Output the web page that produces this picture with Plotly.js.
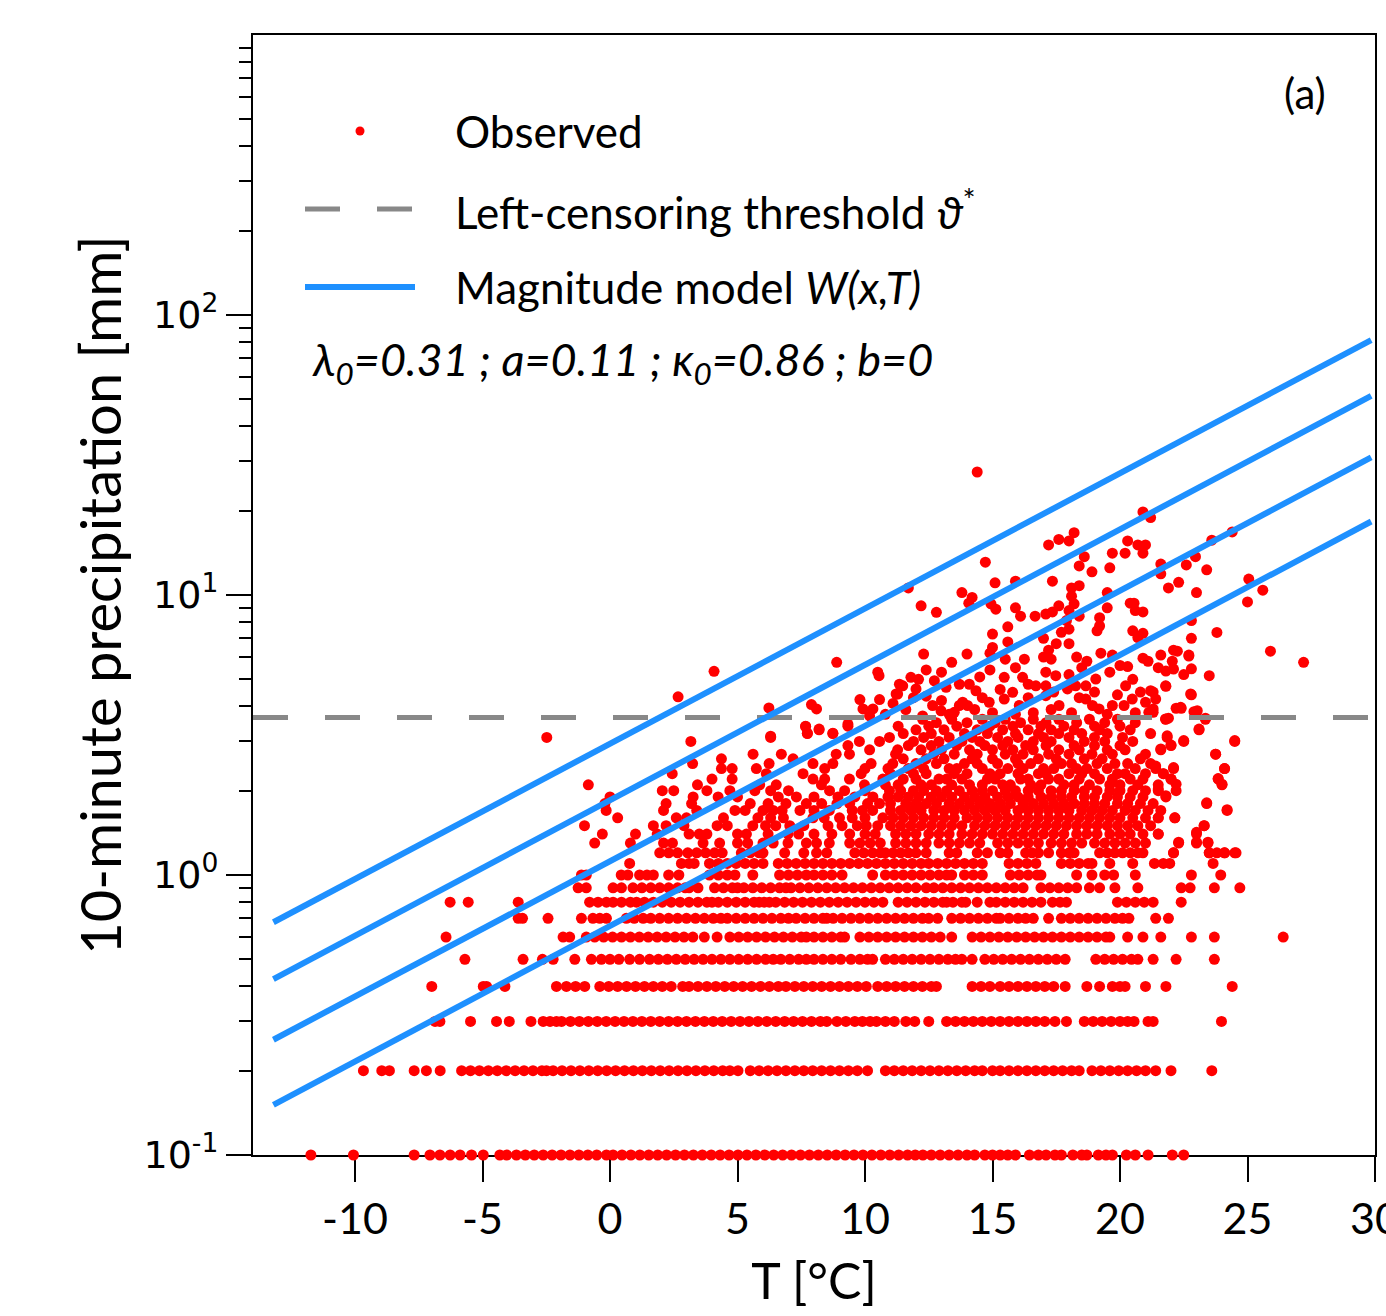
<!DOCTYPE html>
<html><head><meta charset="utf-8">
<script src="https://cdn.plot.ly/plotly-3.0.1.min.js"></script>
<style>html,body{margin:0;padding:0;background:#fff}#chart{width:1386px;height:1316px}</style>
</head><body><div id="chart"></div>
<script>
// ---- Observed 10-minute precipitation, quantized rows (mm) and temperatures (°C) ----
const T_01 = [-11.73,-10.06,-7.68,-7.06,-6.67,-6.27,-5.88,-5.43,-4.97,-4.32,-4.05,-3.67,-3.32,-2.97,-2.62,-2.27,-1.92,-1.57,-1.22,-0.87,-0.52,-0.14,0.12,0.47,0.82,1.17,1.52,1.87,2.22,2.57,2.92,3.27,3.62,3.97,4.32,4.67,5.02,5.37,5.72,6.07,6.42,6.77,7.12,7.47,7.82,8.17,8.52,8.87,9.22,9.57,9.92,10.27,10.62,10.97,11.32,11.67,11.97,12.27,12.6,12.95,13.3,13.65,14.0,14.3,14.7,15.0,15.3,15.6,15.9,16.45,16.8,17.1,17.45,17.7,18.15,18.5,18.7,19.15,19.45,19.7,20.25,20.6,21.1,22.05,22.5];
const T_02 = [-9.67,-8.95,-8.65,-7.68,-7.2,-6.66,-5.82,-5.47,-5.12,-4.77,-4.42,-4.07,-3.72,-3.37,-3.02,-2.67,-2.49,-2.23,-1.88,-1.53,-1.18,-0.83,-0.48,-0.13,0.22,0.57,0.92,1.27,1.62,1.97,2.32,2.67,3.02,3.37,3.72,4.07,4.42,4.7,5.02,5.5,5.85,6.2,6.55,6.9,7.25,7.6,7.95,8.3,8.65,9.0,9.35,9.7,10.1,10.8,11.15,11.5,11.85,12.2,12.55,12.9,13.25,13.6,13.95,14.3,14.6,15.0,15.3,15.65,16.0,16.35,16.7,17.05,17.4,17.75,18.1,18.4,18.9,19.25,19.6,19.95,20.3,20.65,21.0,21.4,22.0,23.6];
const T_03 = [-6.86,-6.67,-5.47,-4.45,-3.95,-3.1,-2.62,-2.35,-2.1,-1.9,-1.55,-1.2,-0.85,-0.5,-0.15,0.2,0.55,0.9,1.25,1.6,1.95,2.3,2.65,3.0,3.35,3.7,4.05,4.4,4.75,5.1,5.45,5.8,6.15,6.5,6.85,7.2,7.55,7.9,8.25,8.5,8.9,9.25,9.6,9.9,10.2,10.45,10.8,11.15,11.6,11.95,12.5,13.2,13.55,13.9,14.25,14.6,14.95,15.3,15.65,16.0,16.35,16.7,17.05,17.45,17.9,18.6,18.95,19.3,19.65,20.0,20.3,20.55,21.1,21.3,23.98];
const T_04 = [-6.99,-4.97,-4.84,-4.12,-2.1,-1.71,-1.35,-0.99,-0.4,-0.05,0.3,0.65,1.0,1.35,1.7,2.05,2.4,2.85,3.1,3.45,3.8,4.15,4.5,4.85,5.2,5.55,5.9,6.25,6.6,6.9,7.25,7.6,7.95,8.3,8.65,9.0,9.35,9.7,10.05,10.5,10.85,11.2,11.55,11.9,12.25,12.6,12.8,14.2,14.55,14.9,15.3,15.65,16.0,16.35,16.7,17.05,17.4,17.85,18.7,19.2,19.7,20.0,20.2,21.0,21.8,24.4];
const T_05 = [-5.69,-3.41,-2.65,-2.23,-1.38,-0.73,-0.34,0.0,0.35,0.77,1.16,1.55,1.9,2.25,2.6,2.95,3.3,3.65,4.0,4.35,4.7,5.05,5.4,5.75,6.1,6.4,6.7,7.05,7.4,7.7,8.0,8.35,8.7,9.05,9.45,9.8,10.1,10.3,10.8,11.15,11.5,11.85,12.2,12.55,12.9,13.25,13.55,13.8,14.2,14.7,15.05,15.4,15.75,16.1,16.45,16.8,17.15,17.5,17.85,19.05,19.4,19.75,20.1,20.45,20.7,21.3,22.2,23.7];
const T_06 = [-6.43,-1.84,-1.58,-0.93,-0.6,-0.25,0.1,0.45,0.8,1.15,1.5,1.85,2.2,2.55,2.9,3.25,3.7,4.2,4.7,5.05,5.4,5.75,6.1,6.45,6.8,7.15,7.5,7.7,8.0,8.35,8.7,9.05,9.2,9.8,10.15,10.5,10.85,11.2,11.55,11.9,12.25,12.6,12.95,13.4,14.2,14.55,14.9,15.25,15.6,15.95,16.3,16.65,17.0,17.35,17.7,18.05,18.4,18.75,19.1,19.45,19.6,20.3,20.9,21.6,22.8,23.7,26.4];
const T_07 = [-3.6,-3.43,-2.43,-1.12,-0.67,-0.4,-0.14,0.64,0.95,1.3,1.6,1.95,2.3,2.65,3.0,3.35,3.7,4.05,4.35,4.6,4.95,5.3,5.65,6.0,6.35,6.7,7.0,7.3,7.65,8.0,8.35,8.5,8.75,9.1,9.45,9.8,10.15,10.5,10.85,11.2,11.55,11.9,12.25,12.5,12.85,13.4,13.75,14.1,14.45,14.8,15.15,15.3,15.65,16.0,16.3,16.6,17.2,17.7,18.05,18.4,18.75,19.1,19.45,19.8,20.1,20.35,21.4,21.9];
const T_08 = [-6.27,-5.56,-3.6,-0.8,-0.47,-0.14,0.12,0.45,0.8,1.04,1.35,1.7,2.05,2.4,2.75,3.1,3.45,3.8,4.0,4.25,4.6,4.95,5.3,5.65,5.85,6.05,6.25,6.5,6.85,7.2,7.55,7.9,8.25,8.6,8.95,9.3,9.65,10.0,10.35,10.7,11.3,11.65,12.0,12.35,12.7,13.05,13.2,13.45,13.8,13.95,14.4,14.9,15.15,15.5,15.85,16.2,16.55,16.9,17.35,17.65,17.9,19.9,20.25,20.6,20.95,21.3,22.4];
const T_09 = [-1.25,-0.93,0.12,0.45,0.9,1.25,1.6,1.95,2.3,2.65,2.95,3.1,3.45,4.1,4.45,4.8,5.0,5.25,5.6,5.95,6.3,6.65,6.9,7.1,7.45,7.8,8.15,8.5,8.85,9.2,9.55,9.9,10.25,10.6,10.95,11.3,11.65,12.0,12.4,12.7,13.05,13.4,13.75,14.1,14.45,14.8,15.15,15.5,15.85,16.2,16.9,17.25,17.6,17.95,18.3,18.8,19.2,19.8,20.7,22.4,22.75,23.7,24.7];
const T_10 = [-1.12,-0.93,0.44,0.7,1.16,1.45,1.7,2.3,2.7,3.9,4.25,4.6,4.9,5.6,6.65,7.0,7.35,7.7,8.0,8.35,8.7,9.1,10.3,10.8,11.15,11.5,11.85,12.2,12.55,12.9,13.2,13.4,13.9,14.25,14.6,15.7,16.05,16.4,16.75,16.9,18.3,18.9,19.4,19.75,20.6,22.8,23.95];
const T_11 = [0.77,2.8,3.1,3.3,3.9,4.25,4.6,4.95,5.3,5.65,6.0,6.6,6.95,7.3,7.65,8.0,8.35,8.7,9.05,9.4,9.75,10.1,10.45,10.8,11.15,11.5,11.85,12.2,12.5,12.85,13.2,13.55,13.9,14.25,14.6,15.65,16.0,16.35,16.7,17.7,18.05,18.4,18.75,18.9,19.6,20.5,21.35,21.7,21.95,23.65];
const T_12 = [1.95,2.3,2.65,3.05,3.4,3.75,4.1,4.4,5.15,5.5,5.85,6.0,6.85,7.6,8.1,8.5,9.6,9.95,10.3,10.6,10.8,11.1,11.4,11.7,12.0,12.4,13.3,13.6,14.4,14.8,15.3,15.6,16.3,16.55,16.8,17.2,17.7,18.0,18.2,19.2,19.5,19.8,20.1,20.4,20.7,20.9,22.1,23.5,23.8,24.1,24.5];
const T_13 = [-0.6,0.8,2.1,2.45,3.65,4.3,5.0,5.4,6.0,6.4,6.98,7.7,8.1,8.6,9.4,9.8,10.2,10.6,11.2,11.6,12.0,12.4,12.9,13.3,13.7,14.1,14.5,15.2,15.6,16.0,16.4,16.8,17.3,17.7,18.1,18.5,19.0,19.4,19.8,20.2,20.6,21.0,22.3,23.0,23.45];
const T_14 = [-0.3,1.0,1.85,3.1,3.5,3.8,5.0,5.35,6.2,6.98,7.4,8.0,8.7,9.4,10.0,10.4,11.2,11.6,12.0,12.5,12.9,13.3,13.8,14.2,14.6,15.0,15.4,15.8,16.2,16.6,17.0,17.4,17.8,18.3,18.7,19.1,19.6,20.0,20.4,20.9,21.5,23.0];
const T_15 = [-1.0,1.7,2.2,2.9,4.2,4.6,5.6,6.1,6.5,7.05,7.6,8.55,9.1,9.7,10.05,10.5,11.0,11.4,11.8,12.2,12.6,13.0,13.4,13.8,14.3,14.7,15.1,15.5,15.9,16.3,16.7,17.1,17.5,17.9,18.3,18.7,19.1,19.5,19.9,20.3,20.7,21.2,23.3];
const T_16 = [0.3,2.6,3.0,4.45,5.8,6.3,6.8,7.96,8.4,9.0,9.5,10.0,10.7,11.1,11.5,11.9,12.3,12.7,13.1,13.5,14.0,14.4,14.8,15.2,15.6,16.0,16.4,16.8,17.2,17.6,18.0,18.4,18.8,19.2,19.6,20.0,20.5,21.0,21.5,22.15];
const T_17 = [-0.15,2.1,3.4,4.9,5.3,6.0,6.4,6.75,7.45,8.0,8.6,9.5,9.9,10.3,11.0,11.4,11.8,12.2,12.7,13.1,13.5,13.9,14.3,14.7,15.1,15.5,16.0,16.4,16.8,17.2,17.6,18.0,18.5,18.9,19.3,19.7,20.2,20.6,21.1,21.6,24.2];
const T_18 = [-0.2,2.2,3.2,5.5,6.2,6.9,7.7,8.3,8.9,9.4,10.1,10.57,11.0,11.6,12.0,12.4,12.8,13.3,13.7,14.1,14.5,14.9,15.3,15.7,16.2,16.6,17.0,17.4,17.8,18.2,18.6,19.0,19.4,19.9,20.3,20.8,21.3,23.4];
const T_19 = [0.0,3.26,4.24,5.0,6.6,7.31,8.0,8.94,9.6,10.31,10.9,11.3,11.7,12.1,12.6,13.0,13.4,13.9,14.3,14.7,15.2,15.6,16.0,16.4,16.9,17.3,17.7,18.1,18.6,19.0,19.5,19.9,20.4,20.9,21.8];
const T_20 = [2.05,2.5,3.8,4.7,5.68,6.3,7.0,8.61,9.2,10.0,10.96,11.4,11.9,12.3,12.8,13.2,13.7,14.2,14.6,15.0,15.5,15.9,16.4,16.8,17.3,17.7,18.2,18.6,19.1,19.6,20.0,20.5,21.0,21.5,22.2];
const T_21 = [-0.85,3.43,5.87,6.52,8.29,9.98,10.8,11.3,12.2,12.6,13.4,14.1,14.6,15.4,15.7,16.5,16.9,17.8,18.2,18.8,19.6,20.0,20.7,21.5,24.0];
const T_22 = [4.0,4.79,7.96,8.42,9.39,10.7,11.5,12.0,12.9,13.2,13.8,14.8,15.1,16.1,16.4,17.2,17.6,18.4,19.2,19.7,20.4,20.9,22.0,23.85];
const T_23 = [2.44,6.13,7.57,9.85,11.0,11.9,12.4,13.5,14.0,14.9,15.3,16.0,16.8,17.1,18.0,18.5,19.0,19.9,20.2,21.0,21.7];
const T_24 = [4.37,4.79,5.74,8.42,10.0,10.9,11.7,12.3,13.3,13.6,14.6,15.6,16.2,17.0,17.4,18.3,18.7,19.5,20.6,21.4,22.1,24.1];
const T_25 = [3.24,6.24,7.96,8.74,10.24,11.09,12.0,12.8,13.9,14.4,15.2,16.0,16.5,17.7,18.1,19.1,19.8,20.3,21.2];
const T_26 = [4.37,7.18,11.5,12.4,13.1,14.2,15.0,15.9,16.8,17.5,18.6,19.3,20.8];
const T_27 = [5.61,6.72,8.87,9.39,11.2,12.7,13.5,14.4,15.5,16.2,17.2,18.0,18.9,19.7,21.0,23.75];
const T_28 = [10.18,11.28,12.2,13.0,14.1,15.0,15.8,16.6,17.6,18.4,19.5,20.2,21.6];
const T_29 = [9.33,11.7,12.6,13.6,14.7,15.4,16.3,17.1,18.2,19.0,20.0,22.0];
const T_30 = [3.17,9.78,10.57,11.9,12.9,13.8,14.5,15.6,16.6,17.3,18.6,19.4,20.5,22.5,24.5];
const T_31 = [-2.48,6.3,10.96,12.3,13.3,14.2,15.2,16.0,17.0,18.0,19.0,20.1,21.85];
const T_32 = [7.74,8.74,11.5,12.6,13.9,14.8,15.9,16.8,17.6,18.5,19.5,21.2];
const T_33 = [8.2,12.0,13.1,14.4,15.4,16.4,17.3,18.2,19.2,20.4,23.1];
const T_34 = [7.67,9.33,11.3,12.5,13.6,14.9,15.8,16.9,17.8,19.0,20.0];
const T_35 = [12.8,14.0,15.1,16.1,17.1,18.3,19.4,20.6];
const T_36 = [12.26,13.4,14.6,15.5,16.6,17.6,18.8,19.9,21.79,23.35];

const rowLevels = [0.1,0.2,0.3,0.4,0.5,0.6,0.7,0.8,0.9,1.0,1.1,1.2,1.3,1.4,1.5,1.6,1.7,1.8,1.9,2.0,2.1,2.2,2.3,2.4,2.5,2.6,2.7,2.8,2.9,3.0,3.1,3.2,3.3,3.4,3.5,3.6];
const rowTemps = [T_01,T_02,T_03,T_04,T_05,T_06,T_07,T_08,T_09,T_10,T_11,T_12,T_13,T_14,T_15,T_16,T_17,T_18,T_19,T_20,T_21,T_22,T_23,T_24,T_25,T_26,T_27,T_28,T_29,T_30,T_31,T_32,T_33,T_34,T_35,T_36];

// scattered points above the censoring threshold
const upperT = [2.67,4.08,6.23,7.9,8.1,8.89,9.8,10.57,9.92,10.31,10.18,10.5,10.55,11.22,9.33,11.35,11.8,11.48,12.0,11.28,12.72,13.18,13.7,14.09,14.35,13.83,13.7,14.02,12.65,12.98,13.5,12.26,14.87,15.46,15.79,16.05,15.46,16.18,16.7,17.09,17.09,17.48,17.09,17.61,17.94,18.26,18.66,19.05,18.66,18.92,19.18,19.7,20.16,20.22,20.48,21.0,21.2,21.4,21.79,22.38,22.77,23.03,21.13,21.79,
14.4,20.9,21.2,14.72,17.2,17.6,18.0,18.2,20.3,20.7,21.0,20.9,19.7,20.2,23.6,24.4,18.6,18.4,18.9,19.6,17.35,21.6,21.6,21.9,22.3,22.6,22.96,23.4,23.0,22.8,22.8,22.7,22.8,23.5,11.7,12.2,12.8,13.8,14.2,14.07,15.1,15.9,14.94,15.13,15.9,16.1,16.67,17.09,17.35,17.6,18.1,18.4,18.1,18.2,18.0,18.4,17.9,19.5,19.5,20.4,20.55,20.6,20.9,19.2,19.2,19.1,20.5,20.9,20.7,17.7,18.0,15.6,15.0,17.0,17.5,18.0,15.6,15.0,14.9,14.0,13.4,12.3,12.4,14.9,15.5,15.9,16.25,17.0,17.2,17.3,18.3,18.7,18.5,19.25,19.7,20.0,20.3,20.9,21.1,21.5,21.6,22.05,22.1,22.7,22.5,23.8,25.05,25.6,25.0,25.9,27.2,22.25,21.8,22.1,21.8,22.8,21.3,22.2,22.4,22.9,23.35,21.9,21.3,21.3,
10.8,11.1,11.6,11.9,12.4,13.0,13.3,14.3,14.6,15.0,15.3,15.9,16.4,16.6,17.3,17.4,18.1,18.4,19.0,19.5,19.9,20.6,20.8,12.1,13.0,14.5,16.4,18.0,19.6,20.5];
const upperP = [4.33,5.34,3.95,4.06,3.92,5.75,4.23,4.23,3.92,3.92,3.7,5.3,5.15,4.43,3.46,4.8,5.08,4.74,4.62,4.43,4.94,4.68,4.8,4.8,4.55,4.14,4.03,4.03,4.03,3.86,3.81,3.7,4.14,4.25,4.49,4.03,5.08,5.08,4.74,5.3,4.74,5.15,4.37,4.03,4.62,4.74,4.74,5.01,4.25,4.03,3.92,4.03,4.03,4.74,4.25,4.14,4.55,4.25,4.74,3.97,4.43,3.86,3.81,3.61,
27.5,19.8,18.9,13.1,15.1,15.8,15.6,16.7,15.6,15.1,15.1,14.1,14.1,14.1,15.7,16.8,13.7,12.7,12.1,12.5,11.2,12.9,11.9,10.6,11.1,12.8,13.7,12.3,10.2,8.1,7.0,6.1,5.45,5.15,10.6,9.15,8.67,10.2,9.8,9.35,11.05,11.2,9.3,8.9,9.0,8.4,8.4,8.55,8.7,9.15,10.6,10.8,9.9,9.3,8.8,8.4,8.1,10.2,9.0,9.35,9.35,8.8,8.7,8.3,7.75,7.45,7.45,7.3,7.05,7.36,7.55,7.7,7.25,7.0,6.7,6.7,6.8,6.5,6.2,6.15,5.75,6.15,5.4,5.4,5.9,5.5,5.9,6.0,6.35,5.9,6.0,5.8,5.5,6.2,6.1,5.6,5.55,5.95,5.8,5.5,6.1,5.8,6.35,6.05,5.2,7.35,11.4,10.4,9.45,6.3,5.75,6.3,5.35,5.44,4.72,4.4,4.5,3.94,3.94,3.83,3.63,3.63,3.81,3.92,
3.75,4.1,3.9,4.3,4.35,4.2,3.75,3.9,4.3,3.8,4.6,3.75,4.3,3.8,3.9,4.5,3.8,4.3,4.5,3.75,4.4,3.8,4.5,5.0,5.3,5.1,4.8,5.2,5.3,5.0];

// right-hand fringe of the cloud below the threshold
const edgeT = [7.74,7.67,8.2,8.74,6.3,23.1,21.85,22.0,22.5,21.6,24.5,23.75,24.1,23.85,24.0,22.1,21.4,21.7,22.0,22.2,21.8,21.5,23.4,24.2,23.3,23.0,23.0,23.45,22.3,22.1,23.5,24.1,24.55,21.5,22.15,21.5];
const edgeP = [3.21,3.39,3.32,3.21,3.13,3.32,3.14,2.91,3.02,2.82,3.02,2.7,2.4,2.21,2.11,2.42,2.45,2.3,2.2,2.11,1.92,2.03,1.81,1.71,1.5,1.42,1.31,1.31,1.31,1.2,1.2,1.2,1.2,1.6,1.6,1.4];

// ---- censoring threshold and magnitude-model lines ----
const thresholdT = [-14, 30];
const thresholdP = [3.65, 3.65];
const modelT = [-13.2, 29.85];
const model1P = [0.678, 81.4];
const model2P = [0.425, 51.4];
const model3P = [0.258, 31.0];
const model4P = [0.151, 18.3];

// ---- axis labels ----
const xTickVals = [-10,-5,0,5,10,15,20,25,30];
const xTickText = ['-10','-5','0','5','10','15','20','25','30'];
const yTickVals = [0.1,1,10,100];
const yTickText = ['10<sup>-1</sup>','10<sup>0</sup>','10<sup>1</sup>','10<sup>2</sup>'];

const obsT = [], obsP = [];
rowLevels.forEach((p, i) => rowTemps[i].forEach(t => { obsT.push(t); obsP.push(p); }));
upperT.forEach((t, i) => { obsT.push(t); obsP.push(upperP[i]); });
edgeT.forEach((t, i) => { obsT.push(t); obsP.push(edgeP[i]); });

const minorVals = [];
[-1,0,1,2].forEach(e => { for (let k = 2; k <= 9; k++) minorVals.push(+(k * Math.pow(10, e)).toPrecision(3)); });

const BLUE = '#1E90FF', GRAY = '#888888', FONT = 'Lato, "Open Sans", sans-serif';

const traces = [
  {x: obsT, y: obsP, type: 'scatter', mode: 'markers', name: 'Observed', cliponaxis: false,
   marker: {color: '#FF0000', size: 11, line: {width: 0}}, showlegend: false, hoverinfo: 'skip'},
  {x: thresholdT, y: thresholdP, type: 'scatter', mode: 'lines', name: 'threshold', showlegend: false,
   line: {color: GRAY, width: 5, dash: '35px,37px'}, hoverinfo: 'skip'}
];
[model1P, model2P, model3P, model4P].forEach(p => traces.push(
  {x: modelT, y: p, type: 'scatter', mode: 'lines', showlegend: false,
   line: {color: BLUE, width: 6}, hoverinfo: 'skip'}));

const W = 1386, H = 1316, L = 253, R = 11, T = 35, B = 161;
const pw = W - L - R, ph = H - T - B;
const px = v => (v - L) / pw;          // page x -> paper
const py = v => (H - B - v) / ph;      // page y -> paper

const legendFont = {family: FONT, size: 44, color: '#000'};
const layout = {
  width: W, height: H,
  margin: {l: L, r: R, t: T, b: B, pad: 0},
  paper_bgcolor: '#fff', plot_bgcolor: '#fff',
  showlegend: false,
  font: {family: FONT, color: '#000'},
  xaxis: {
    range: [-14, 30], tickmode: 'array', tickvals: xTickVals, ticktext: xTickText,
    ticks: 'outside', ticklen: 25, tickwidth: 2, tickcolor: '#000',
    ticklabeloverflow: 'allow',
    showline: true, linecolor: '#000', linewidth: 2, mirror: true,
    showgrid: false, zeroline: false, layer: 'below traces',
    tickfont: {family: FONT, size: 43, color: '#000'},
    title: {text: 'T [°C]', font: {family: FONT, size: 50, color: '#000'}, standoff: 22},
    automargin: false
  },
  yaxis: {
    type: 'log', range: [-1, 3], tickmode: 'array', tickvals: yTickVals, ticktext: yTickText,
    ticks: 'outside', ticklen: 25, tickwidth: 2, tickcolor: '#000',
    minor: {tickmode: 'array', tickvals: minorVals, ticks: 'outside', ticklen: 12, tickwidth: 2, tickcolor: '#000', showgrid: false},
    showline: true, linecolor: '#000', linewidth: 2, mirror: true,
    showgrid: false, zeroline: false, layer: 'below traces',
    tickfont: {family: '"DejaVu Sans", sans-serif', size: 38, color: '#000'},
    title: {text: '10-minute precipitation [mm]', font: {family: FONT, size: 56, color: '#000'}, standoff: 4},
    automargin: false
  },
  shapes: [
    {type: 'circle', xref: 'paper', yref: 'paper', xsizemode: 'pixel', ysizemode: 'pixel',
     xanchor: px(360), yanchor: py(131), x0: -4.5, x1: 4.5, y0: -4.5, y1: 4.5,
     fillcolor: '#FF0000', line: {width: 0}},
    {type: 'line', xref: 'paper', yref: 'paper', x0: px(305), x1: px(412), y0: py(209), y1: py(209),
     line: {color: GRAY, width: 5, dash: '35px,37px'}},
    {type: 'line', xref: 'paper', yref: 'paper', x0: px(305), x1: px(415), y0: py(287), y1: py(287),
     line: {color: BLUE, width: 6}}
  ],
  annotations: [
    {xref: 'paper', yref: 'paper', x: px(453), y: py(131), xanchor: 'left', yanchor: 'middle', showarrow: false,
     text: 'Observed', font: legendFont},
    {xref: 'paper', yref: 'paper', x: px(453), y: py(209), xanchor: 'left', yanchor: 'middle', showarrow: false,
     text: 'Left-censoring threshold <i>ϑ</i><sup>*</sup>', font: legendFont},
    {xref: 'paper', yref: 'paper', x: px(453), y: py(287), xanchor: 'left', yanchor: 'middle', showarrow: false,
     text: 'Magnitude model <i>W(x,T)</i>', font: legendFont},
    {xref: 'paper', yref: 'paper', x: px(310), y: py(362), xanchor: 'left', yanchor: 'middle', showarrow: false,
     text: '<i>λ<sub>0</sub>=0.31 ; a=0.11 ; κ<sub>0</sub>=0.86 ; b=0</i>', font: {family: FONT, size: 45, color: '#000'}},
    {xref: 'paper', yref: 'paper', x: px(1305), y: py(93), xanchor: 'center', yanchor: 'middle', showarrow: false,
     text: '(a)', font: {family: FONT, size: 42, color: '#000'}}
  ]
};

Plotly.newPlot('chart', traces, layout, {staticPlot: true, displayModeBar: false});
</script>
</body></html>
